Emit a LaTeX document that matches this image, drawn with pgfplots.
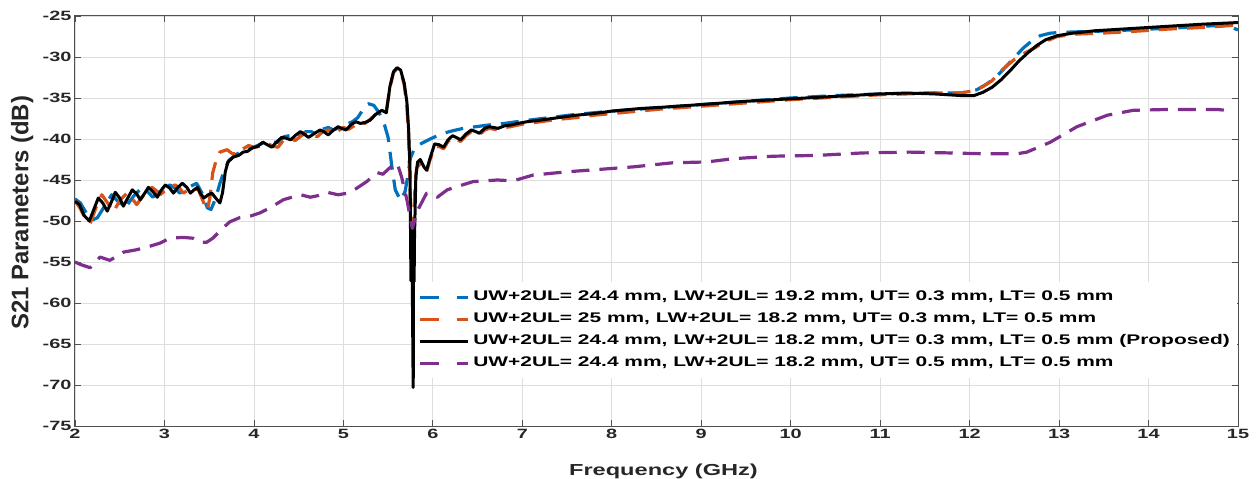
\documentclass[border=0pt]{standalone}
\usepackage{fontspec}
\setmainfont{Liberation Sans}
\newfontfamily\wide{Liberation Sans}[FakeStretch=1.48]
\newfontfamily\wider{Liberation Sans}[FakeStretch=1.50]
\usepackage{pgfplots}
\pgfplotsset{compat=1.18}
\definecolor{mblue}{RGB}{0,114,189}
\definecolor{morange}{RGB}{217,83,25}
\definecolor{mpurple}{RGB}{126,47,142}
\definecolor{framec}{RGB}{80,80,80}
\definecolor{gridc}{RGB}{222,222,222}
\pgfplotsset{
 dashleg/.style={legend image code/.code={\draw[##1, dash pattern=on 19bp off 18bp](2bp,0bp)--(50bp,0bp);}},
 solidleg/.style={legend image code/.code={\draw[##1](2bp,0bp)--(50bp,0bp);}},
}
\begin{document}
\begin{tikzpicture}
\useasboundingbox (-75bp,-53bp) rectangle (1183bp,426bp);
\begin{axis}[
 at={(0,0)}, anchor=south west,
 scale only axis, width=1163bp, height=410bp,
 xmin=2, xmax=15, ymin=-75, ymax=-25,
 xtick={2,3,4,5,6,7,8,9,10,11,12,13,14,15},
 xticklabels={2,3,4,5,6,7,8,9,10,11,12,13,14,15},
 ytick={-75,-70,-65,-60,-55,-50,-45,-40,-35,-30,-25},
 yticklabels={-75,-70,-65,-60,-55,-50,-45,-40,-35,-30,-25},
 tick align=inside, major tick length=6bp,
 every tick/.style={framec, line width=0.8bp},
 axis line style={framec, line width=1bp},
 grid=major, major grid style={gridc, line width=0.8bp},
 ticklabel style={font=\wide\bfseries\fontsize{13.5}{13.5}\selectfont, text=black!85},
 xlabel={Frequency (GHz)}, ylabel={S21 Parameters (dB)},
 xlabel style={at={(axis description cs:0.506,-0.11)}, anchor=center, font=\wide\bfseries\fontsize{16}{16}\selectfont, text=black!85},
 ylabel style={at={(axis description cs:-0.0455,0.52)}, anchor=center, font=\bfseries\fontsize{24}{24}\selectfont, text=black!85},
 legend cell align=left,
 legend style={at={(0.2923,0.3512)}, anchor=north west, draw=none, fill=white,
   inner xsep=3bp, inner ysep=4bp, row sep=0pt,
   font=\wider\bfseries\fontsize{14}{14}\selectfont,
   nodes={text height=10bp, text depth=4bp, inner ysep=4bp, inner xsep=4bp}},
 solidleg,
 every axis plot/.append style={line join=round},
]
\addplot[mblue, line width=3.2bp, dash pattern=on 18bp off 10bp, dashleg] coordinates {
(2.00,-47.3)(2.06,-47.8)(2.12,-48.9)(2.19,-49.9)(2.25,-49.6)(2.33,-48.2)(2.41,-46.8)(2.48,-47.6)
(2.56,-48.4)(2.66,-46.9)(2.75,-45.9)(2.81,-46.4)(2.87,-47.1)(2.97,-46.2)(3.06,-45.6)(3.12,-46.0)
(3.17,-46.6)(3.27,-45.9)(3.36,-45.4)(3.42,-46.6)(3.48,-48.4)(3.52,-48.6)(3.57,-47.3)(3.62,-45.4)
(3.67,-43.8)(3.72,-42.6)(3.80,-41.9)(3.88,-41.4)(3.95,-41.2)(4.00,-41.0)(4.08,-40.6)(4.14,-40.2)
(4.20,-40.4)(4.27,-40.4)(4.34,-39.7)(4.40,-39.6)(4.46,-39.9)(4.52,-39.6)(4.58,-39.1)(4.64,-39.1)
(4.70,-39.4)(4.77,-38.8)(4.83,-38.6)(4.89,-38.9)(4.96,-38.6)(5.03,-38.2)(5.10,-37.9)(5.16,-37.4)
(5.22,-36.4)(5.28,-35.7)(5.34,-35.9)(5.40,-36.8)(5.46,-38.3)(5.50,-39.8)(5.54,-43.2)(5.58,-46.2)
(5.64,-47.5)(5.69,-46.4)(5.72,-44.5)(5.75,-42.3)(5.80,-41.0)(5.88,-40.5)(5.97,-40.0)(6.05,-39.6)
(6.12,-39.3)(6.22,-39.0)(6.34,-38.7)(6.48,-38.5)(6.62,-38.3)(6.80,-38.1)(7.0,-37.8)(7.3,-37.4)
(7.6,-37.0)(8.0,-36.6)(8.5,-36.2)(9.0,-35.8)(9.5,-35.4)(10.0,-35.0)(10.5,-34.7)(11.0,-34.5)
(11.5,-34.4)(11.9,-34.4)(12.08,-34.0)(12.19,-33.3)(12.28,-32.6)(12.37,-31.6)(12.48,-30.3)(12.6,-28.9)
(12.7,-28.0)(12.79,-27.4)(12.9,-27.1)(13.01,-27.0)(13.3,-26.9)(13.6,-26.8)(14.0,-26.6)(14.4,-26.4)
(14.7,-26.2)(14.85,-26.2)(14.93,-26.4)(15.0,-26.7)
};
\addlegendentry{UW+2UL= 24.4 mm, LW+2UL= 19.2 mm, UT= 0.3 mm, LT= 0.5 mm}
\addplot[morange, line width=3.2bp, dash pattern=on 18bp off 10bp, dashleg] coordinates {
(2.00,-47.5)(2.06,-48.5)(2.12,-49.8)(2.17,-50.3)(2.23,-48.5)(2.30,-46.8)(2.37,-47.9)(2.43,-48.9)
(2.50,-47.5)(2.58,-46.6)(2.64,-47.3)(2.69,-48.0)(2.77,-46.8)(2.86,-45.9)(2.91,-46.3)(2.95,-46.8)
(3.04,-46.0)(3.12,-45.6)(3.17,-46.0)(3.21,-46.6)(3.30,-46.0)(3.38,-46.2)(3.44,-47.8)(3.48,-48.7)
(3.51,-47.0)(3.54,-44.1)(3.58,-42.5)(3.62,-41.6)(3.70,-41.3)(3.76,-41.8)(3.82,-41.8)(3.88,-41.2)
(3.94,-40.8)(4.00,-41.0)(4.07,-40.9)(4.15,-40.5)(4.21,-40.9)(4.27,-41.0)(4.34,-40.0)(4.40,-39.8)
(4.46,-40.2)(4.53,-39.6)(4.59,-39.2)(4.65,-39.6)(4.71,-39.7)(4.78,-39.0)(4.84,-38.9)(4.89,-39.4)
(4.94,-39.0)(5.00,-38.6)(5.06,-38.8)(5.12,-38.4)(5.18,-37.8)(5.24,-38.1)(5.30,-37.6)(5.36,-37.0)
(5.43,-36.4)(5.48,-36.5)(5.52,-33.8)(5.56,-31.9)(5.60,-31.4)(5.64,-31.7)(5.68,-33.4)(5.71,-36.0)
(5.73,-40.0)(5.75,-48.0)(5.765,-54.0)(5.78,-52.0)(5.80,-46.0)(5.82,-43.5)(5.86,-43.0)(5.90,-43.8)
(5.93,-44.0)(5.97,-42.5)(6.02,-41.0)(6.07,-40.9)(6.12,-41.2)(6.17,-40.3)(6.22,-39.8)(6.26,-40.0)
(6.31,-40.3)(6.37,-39.6)(6.43,-39.1)(6.48,-39.3)(6.52,-39.5)(6.58,-38.9)(6.63,-38.7)(6.68,-38.8)
(6.73,-38.9)(6.80,-38.6)(6.87,-38.5)(6.95,-38.3)(7.05,-38.1)(7.2,-37.9)(7.4,-37.6)(7.6,-37.4)
(7.8,-37.1)(8.0,-36.9)(8.3,-36.6)(8.6,-36.3)(9.0,-36.0)(9.5,-35.6)(10.0,-35.2)(10.5,-34.9)
(11.0,-34.6)(11.3,-34.5)(11.6,-34.4)(11.9,-34.4)(12.05,-34.1)(12.15,-33.6)(12.25,-32.9)(12.37,-31.5)
(12.5,-30.3)(12.6,-29.6)(12.71,-29.0)(12.85,-28.1)(12.98,-27.5)(13.2,-27.2)(13.46,-27.1)(13.8,-26.9)
(14.21,-26.6)(14.6,-26.4)(15.0,-26.1)
};
\addlegendentry{UW+2UL= 25 mm, LW+2UL= 18.2 mm, UT= 0.3 mm, LT= 0.5 mm}
\addplot[black, line width=3bp] coordinates {
(2.00,-47.6)(2.05,-48.0)(2.10,-49.3)(2.16,-50.0)(2.21,-48.6)(2.26,-47.2)(2.31,-47.8)(2.36,-48.8)
(2.41,-47.6)(2.45,-46.5)(2.50,-47.2)(2.54,-48.2)(2.59,-47.2)(2.64,-46.2)(2.69,-46.7)(2.73,-47.4)
(2.78,-46.6)(2.82,-45.9)(2.87,-46.4)(2.92,-47.1)(2.96,-46.3)(3.01,-45.6)(3.06,-46.0)(3.10,-46.6)
(3.15,-45.9)(3.20,-45.4)(3.25,-45.9)(3.29,-46.6)(3.33,-46.2)(3.37,-45.9)(3.40,-46.6)(3.44,-47.2)
(3.49,-46.8)(3.53,-46.6)(3.58,-47.3)(3.62,-47.8)(3.65,-46.5)(3.68,-44.0)(3.71,-42.8)(3.77,-42.2)
(3.83,-42.0)(3.88,-41.6)(3.93,-41.5)(3.98,-41.1)(4.04,-40.9)(4.10,-40.4)(4.15,-40.7)(4.20,-41.0)
(4.26,-40.3)(4.31,-39.8)(4.36,-39.9)(4.41,-40.1)(4.47,-39.5)(4.52,-39.1)(4.56,-39.4)(4.61,-39.8)
(4.68,-39.3)(4.74,-38.9)(4.78,-39.1)(4.83,-39.5)(4.89,-38.9)(4.94,-38.5)(4.98,-38.7)(5.03,-38.9)
(5.09,-38.2)(5.14,-37.9)(5.19,-38.1)(5.24,-38.0)(5.30,-37.7)(5.36,-37.0)(5.43,-36.5)(5.48,-36.8)
(5.52,-33.6)(5.56,-31.8)(5.60,-31.3)(5.64,-31.6)(5.68,-33.2)(5.71,-35.5)(5.73,-39.0)(5.745,-44.0)
(5.755,-57.3)(5.765,-50.5)(5.78,-70.3)(5.795,-52.0)(5.81,-44.5)(5.83,-42.8)(5.86,-42.5)(5.90,-43.4)
(5.93,-43.8)(5.97,-42.3)(6.02,-40.6)(6.07,-40.7)(6.12,-41.0)(6.17,-40.1)(6.22,-39.6)(6.26,-39.8)
(6.31,-40.1)(6.37,-39.4)(6.43,-38.9)(6.48,-39.1)(6.52,-39.3)(6.58,-38.7)(6.63,-38.5)(6.68,-38.6)
(6.73,-38.7)(6.80,-38.4)(6.87,-38.3)(6.95,-38.1)(7.05,-37.9)(7.2,-37.7)(7.4,-37.4)(7.6,-37.1)
(7.8,-36.9)(8.0,-36.6)(8.3,-36.3)(8.6,-36.1)(9.0,-35.8)(9.5,-35.4)(10.0,-35.1)(10.5,-34.8)
(11.0,-34.5)(11.3,-34.4)(11.6,-34.5)(11.9,-34.7)(12.05,-34.7)(12.15,-34.3)(12.25,-33.7)(12.35,-32.8)
(12.45,-31.7)(12.55,-30.5)(12.65,-29.5)(12.75,-28.6)(12.85,-27.9)(12.98,-27.4)(13.15,-27.1)(13.4,-26.8)
(13.7,-26.6)(14.0,-26.4)(14.3,-26.2)(14.6,-26.0)(14.8,-25.9)(15.0,-25.8)
};
\addlegendentry{UW+2UL= 24.4 mm, LW+2UL= 18.2 mm, UT= 0.3 mm, LT= 0.5 mm (Proposed)}
\addplot[mpurple, line width=3.2bp, dash pattern=on 18bp off 10bp, dashleg] coordinates {
(2.00,-55.0)(2.06,-55.3)(2.17,-55.7)(2.28,-54.4)(2.39,-54.8)(2.54,-53.8)(2.69,-53.5)(2.80,-53.2)
(2.95,-52.7)(3.06,-52.1)(3.21,-52.0)(3.32,-52.1)(3.40,-52.6)(3.47,-52.6)(3.54,-52.1)(3.65,-50.9)
(3.73,-50.1)(3.84,-49.6)(3.96,-49.4)(4.07,-49.0)(4.18,-48.4)(4.33,-47.4)(4.52,-46.8)(4.63,-47.1)
(4.72,-46.9)(4.82,-46.5)(4.94,-46.8)(5.05,-46.6)(5.15,-46.0)(5.26,-45.2)(5.38,-44.1)(5.44,-44.3)
(5.52,-43.5)(5.60,-42.9)(5.65,-44.6)(5.71,-47.4)(5.77,-50.9)(5.83,-48.7)(5.93,-46.6)(6.05,-47.1)
(6.16,-46.2)(6.30,-45.7)(6.45,-45.2)(6.72,-45.0)(6.90,-45.1)(7.12,-44.4)(7.50,-44.0)(7.87,-43.7)
(8.24,-43.4)(8.68,-42.9)(9.06,-42.8)(9.36,-42.4)(9.8,-42.1)(10.3,-42.0)(10.8,-41.7)(11.33,-41.6)
(11.78,-41.7)(12.15,-41.8)(12.53,-41.8)(12.64,-41.6)(12.90,-40.4)(13.20,-38.5)(13.54,-37.1)(13.83,-36.5)
(14.21,-36.4)(14.77,-36.4)(14.86,-36.5)
};
\addlegendentry{UW+2UL= 24.4 mm, LW+2UL= 18.2 mm, UT= 0.5 mm, LT= 0.5 mm}
\end{axis}
\end{tikzpicture}
\end{document}
